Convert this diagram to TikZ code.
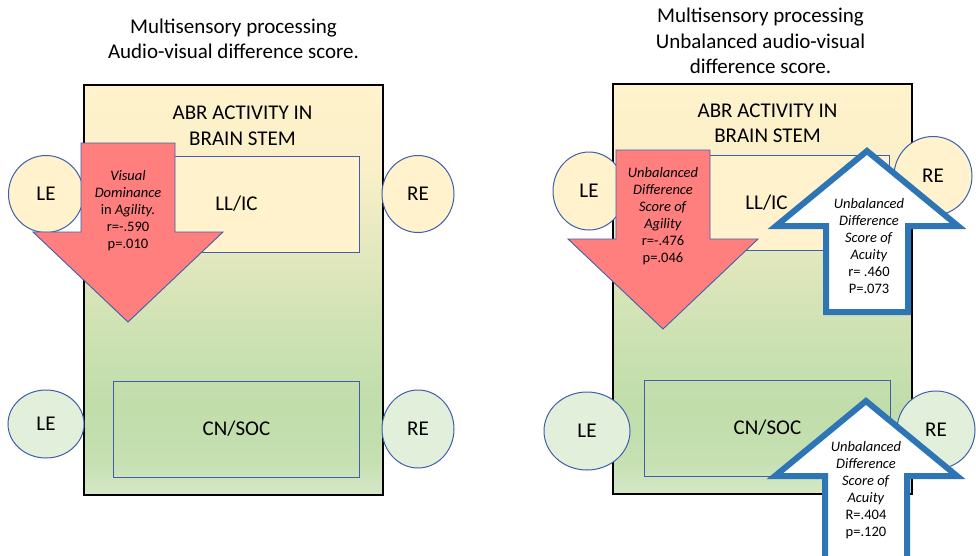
\documentclass[tikz,border=0pt]{standalone}
\usepackage{fontspec}
\setmainfont{Carlito}
\usetikzlibrary{shapes.geometric}

\definecolor{paleyellow}{RGB}{255,242,204}
\definecolor{palegreen}{RGB}{226,239,218}
\definecolor{frameblue}{RGB}{60,96,172}
\definecolor{arrowblue}{RGB}{46,117,182}
\definecolor{salmon}{RGB}{255,127,127}
\definecolor{stemA}{RGB}{214,232,200}
\definecolor{stemB}{RGB}{198,224,178}
\definecolor{stemC}{RGB}{192,221,170}
\definecolor{stemD}{RGB}{208,226,180}
\definecolor{stemE}{RGB}{228,232,190}
\definecolor{stemF}{RGB}{250,240,200}

\pgfdeclareverticalshading{stemshade}{100bp}{color(0bp)=(stemA); color(25bp)=(stemA); color(29bp)=(stemB); color(36bp)=(stemC); color(46bp)=(stemD); color(55bp)=(stemE); color(65bp)=(stemF); color(75bp)=(paleyellow); color(100bp)=(paleyellow)}

\tikzset{
	agility/.pic={
        code={
\draw[frameblue,line width=0.9pt,fill=salmon](0,0)--(-95,-90)--(-47,-90)--(-47,-179)--(47,-179)--(47,-90)--(95,-90)--cycle;
							}
	}
}
\tikzset{
	acuity/.pic={
        code={
\draw[arrowblue,line width=6pt,fill=white](0,0)--(91,75)--(41,75)--(41,161)--(-41,161)--(-41,75)--(-91,75)--cycle;
							}
	}
}
\tikzset{
	title/.style={align=center,font=\fontsize{21}{25.5}\selectfont},
	stem/.style={draw=black,line width=1.3pt,shading=stemshade,minimum width=299,minimum height=410,inner sep=0},
	part/.style={draw=frameblue,line width=1pt,minimum width=246,minimum height=96,inner sep=0,font=\fontsize{21}{25.5}\selectfont},
	ear/.style={ellipse,draw=frameblue,line width=1pt,inner sep=0,font=\fontsize{21}{25.5}\selectfont},
	stat/.style={align=center,font=\fontsize{14.5}{17}\selectfont}
}

\begin{document}
\begin{tikzpicture}[x=1pt,y=-1pt]
%Gitter
%\draw[step=50pt,very thin,black!20] (0,0) grid(976,555);
\path[fill=white] (0,0) rectangle (976,555);
\useasboundingbox (0,0) rectangle (976,555);
%left
\node[title] (titleL) at (233.5,39) {Multisensory processing\\Audio-visual difference score.};
\node[stem] (stemL) at (233.5,290) {};
\node[title] (abrL) at (242.5,126) {ABR ACTIVITY IN\\BRAIN STEM};
\node[part,fill=paleyellow] (llicL) at (236.5,204) {LL/IC};
\node[part,fill=none] (cnsocL) at (236.5,429) {CN/SOC};
\node[ear,fill=paleyellow,minimum width=75,minimum height=77] (leL) at (46,194) {LE};
\node[ear,fill=paleyellow,minimum width=72,minimum height=77] (reL) at (418,194) {RE};
\node[ear,fill=palegreen,minimum width=76,minimum height=68] (leLL) at (46,424) {LE};
\node[ear,fill=palegreen,minimum width=72,minimum height=78] (reLL) at (418,429) {RE};
\path (128,322) pic {agility};
\node[stat] (visL) at (128,211) {\textit{Visual}\\\textit{Dominance}\\in \textit{Agility.}\\r=-.590\\p=.010};
%right
\node[title] (titleR) at (760.5,41) {Multisensory processing\\Unbalanced audio-visual\\difference score.};
\node[stem] (stemR) at (762.5,289) {};
\node[title] (abrR) at (767.5,123.5) {ABR ACTIVITY IN\\BRAIN STEM};
\node[part,fill=paleyellow,minimum width=245,minimum height=95] (llicR) at (766.5,202.5) {LL/IC};
\node[part,fill=none] (cnsocR) at (767.5,428) {CN/SOC};
\node[ear,fill=paleyellow,minimum width=72,minimum height=78] (leR) at (589,191) {LE};
\node[ear,fill=paleyellow,minimum width=78,minimum height=79] (reR) at (933,176) {RE};
\node[ear,fill=palegreen,minimum width=86,minimum height=78] (leRR) at (587,431) {LE};
\node[ear,fill=palegreen,minimum width=78,minimum height=78] (reRR) at (936,430) {RE};
\path (663,329) pic {agility};
\node[stat] (agiR) at (663,216) {\textit{Unbalanced}\\\textit{Difference}\\\textit{Score of}\\\textit{Agility}\\r=-.476\\p=.046};
\path (867,151) pic {acuity};
\node[stat] (acuR) at (869,246) {\textit{Unbalanced}\\\textit{Difference}\\\textit{Score of}\\\textit{Acuity}\\r= .460\\P=.073};
\path (866,401) pic {acuity};
\node[stat] (acuRR) at (866,490) {\textit{Unbalanced}\\\textit{Difference}\\\textit{Score of}\\\textit{Acuity}\\R=.404\\p=.120};
\end{tikzpicture}
\end{document}
